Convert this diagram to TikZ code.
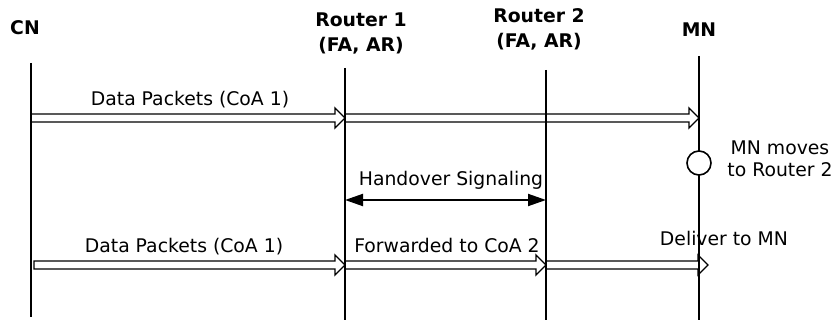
\documentclass[tikz,border=0pt]{standalone}
\usepackage{fontspec}
\setmainfont{DejaVu Sans}
\usetikzlibrary{arrows.meta,calc}

\begin{document}
\begin{tikzpicture}[
  x=0.5pt,y=-0.5pt,
  font=\fontsize{9.4}{12.5}\selectfont,
  head/.style={font=\fontsize{9.4}{12.5}\selectfont\bfseries,align=center,anchor=base,inner sep=0pt},
  lbl/.style={anchor=base,inner sep=0pt},
  life/.style={line width=1pt},
  hollow/.style={draw,line width=0.65pt,line join=miter,
    to path={let \p1=(\tikztostart), \p2=(\tikztotarget) in
      (\x1,\y1+2pt) -- (\x2-5pt,\y1+2pt) -- (\x2-5pt,\y1+5pt) -- (\x2,\y1)
      -- (\x2-5pt,\y1-5pt) -- (\x2-5pt,\y1-2pt) -- (\x1,\y1-2pt) -- cycle}},
  sig/.style={{Triangle[length=9pt,width=6pt]}-{Triangle[length=9pt,width=6pt]},line width=1pt}
]
\useasboundingbox (0,0) rectangle (836,320);
% entities
\node[head] (cn) at (25,35) {CN};
\node[head] (ra) at (361,52) {Router 1\\(FA, AR)};
\node[head] (rb) at (539,48) {Router 2\\(FA, AR)};
\node[head] (mn) at (699,37) {MN};
% lifelines
\coordinate (cnT) at (31,63);  \coordinate (cnB) at (31,317);
\coordinate (raT) at (345,68); \coordinate (raB) at (345,320);
\coordinate (rbT) at (546,70); \coordinate (rbB) at (546,320);
\coordinate (mnT) at (699,56); \coordinate (mnB) at (699,320);
\draw[life] (cnT) -- (cnB);
\draw[life] (raT) -- (raB);
\draw[life] (rbT) -- (rbB);
\draw[life] (mnT) -- (mnB);
\node[draw,circle,fill=white,line width=0.8pt,minimum size=12pt,inner sep=0pt] (move) at (699,163) {};
\node[align=center,anchor=base,inner sep=0pt,font=\fontsize{9.4}{11}\selectfont] (movetxt) at (780,177) {MN moves\\to Router 2};
% first data flow
\coordinate (cn1) at (31,118); \coordinate (ra1) at (345,118); \coordinate (mn1) at (699,118);
\draw[hollow] (cn1) to (ra1);
\draw[hollow] (ra1) to (mn1);
\node[lbl] (d1) at (190,106) {Data Packets (CoA 1)};
% handover
\coordinate (rah) at (345,200); \coordinate (rbh) at (546,200);
\draw[sig] (rah) -- (rbh);
\node[lbl] (ho) at (451,186) {Handover Signaling};
% second data flow
\coordinate (cn2) at (34,265); \coordinate (ra2) at (345,265);
\coordinate (rb2) at (546,265); \coordinate (mn2) at (708,265);
\draw[hollow] (cn2) to (ra2);
\draw[hollow] (ra2) to (rb2);
\draw[hollow] (rb2) to (mn2);
\node[lbl] (d2) at (184,253) {Data Packets (CoA 1)};
\node[lbl] (fw) at (447,253) {Forwarded to CoA 2};
\node[lbl] (dl) at (724,246) {Deliver to MN};
\end{tikzpicture}
\end{document}
